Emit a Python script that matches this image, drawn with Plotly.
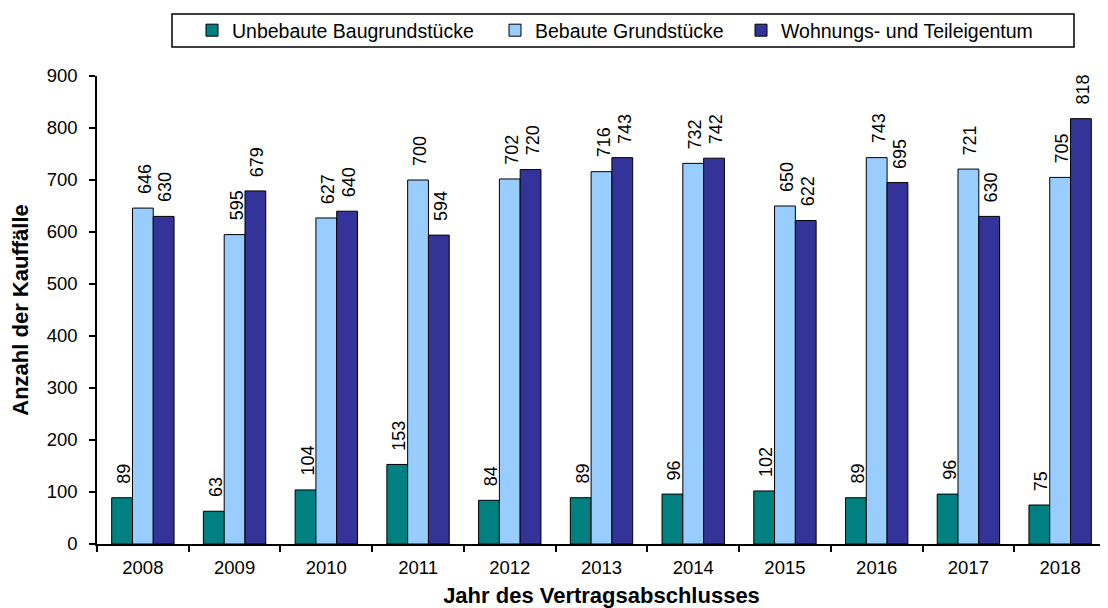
import plotly.graph_objects as go

years = ["2008", "2009", "2010", "2011", "2012", "2013", "2014", "2015", "2016", "2017", "2018"]
unbebaut = [89, 63, 104, 153, 84, 89, 96, 102, 89, 96, 75]
bebaut = [646, 595, 627, 700, 702, 716, 732, 650, 743, 721, 705]
wohnung = [630, 679, 640, 594, 720, 743, 742, 622, 695, 630, 818]
series_names = ["Unbebaute Baugrundstücke", "Bebaute Grundstücke", "Wohnungs- und Teileigentum"]
colors = ["#008080", "#99CCFF", "#333399"]

FONT = "Liberation Sans, Arial, sans-serif"

# page body has an 8px margin; compensate so the plot sits where the reference has it
OFF = 8
PAGE_W, PAGE_H = 1108, 608
AX_L, AX_R, AX_T, AX_B = 97, 1106, 76, 544  # page pixel positions of plot area
W, H = PAGE_W - OFF, PAGE_H - OFF
L = AX_L - OFF
T = AX_T - OFF
R = W - (AX_R - OFF)
B = H - (AX_B - OFF)
pw, ph = AX_R - AX_L, AX_B - AX_T
BARGAP = 0.32
bar_w = pw / len(years) * (1 - BARGAP) / 3


def px_x(x):
    return (x - AX_L) / pw


def px_y(y):
    return 1 + (AX_T - y) / ph


legend_ids = ["legend", "legend2", "legend3"]
legend_text_starts = [232, 535, 781]

fig = go.Figure()
annotations = []
for i, (name, vals, col) in enumerate(zip(series_names, [unbebaut, bebaut, wohnung], colors)):
    fig.add_trace(go.Bar(
        x=years, y=vals, name=name, legend=legend_ids[i],
        marker=dict(color=col, line=dict(color="black", width=1)),
        cliponaxis=False,
    ))
    for j, v in enumerate(vals):
        # category axis: annotation x given as the category index
        annotations.append(dict(
            x=j, y=v, xref="x", yref="y", text=str(v), showarrow=False,
            textangle=-90, yanchor="bottom", xanchor="center",
            xshift=(i - 1) * bar_w + 2, yshift=12,
            font=dict(family=FONT, size=18, color="black"),
        ))

legend_common = dict(orientation="h", xanchor="left", yanchor="middle",
                     y=px_y(30.5), font=dict(family=FONT, size=19.5, color="black"),
                     bgcolor="rgba(0,0,0,0)", borderwidth=0, itemwidth=30)

fig.update_layout(
    width=W, height=H,
    margin=dict(l=L, r=R, t=T, b=B, autoexpand=False),
    paper_bgcolor="white", plot_bgcolor="white",
    font=dict(family=FONT, size=18, color="black"),
    barmode="group", bargap=BARGAP, bargroupgap=0,
    showlegend=True,
    legend=dict(legend_common, x=px_x(legend_text_starts[0] - 40)),
    legend2=dict(legend_common, x=px_x(legend_text_starts[1] - 40)),
    legend3=dict(legend_common, x=px_x(legend_text_starts[2] - 40)),
    annotations=annotations,
    shapes=[dict(type="rect", xref="paper", yref="paper",
                 x0=px_x(172), x1=px_x(1074), y0=px_y(47), y1=px_y(14),
                 line=dict(color="black", width=1.5), fillcolor="rgba(0,0,0,0)")],
    xaxis=dict(
        type="category", categoryorder="array", categoryarray=years,
        range=[-0.5, len(years) - 0.5],
        showline=True, linecolor="black", linewidth=1.5,
        ticks="outside", tickson="boundaries", ticklen=6, tickcolor="black", tickwidth=1.5,
        showgrid=False, zeroline=False, ticklabelstandoff=6,
        tickfont=dict(family=FONT, size=18.5, color="black"),
        title=dict(text="<b>Jahr des Vertragsabschlusses</b>", standoff=12,
                   font=dict(family=FONT, size=22, color="black")),
    ),
    yaxis=dict(
        range=[0, 900], dtick=100, showline=True, linecolor="black", linewidth=1.5,
        ticks="outside", ticklen=6, tickcolor="black", tickwidth=1.5,
        showgrid=False, zeroline=False, ticklabelstandoff=8,
        tickfont=dict(family=FONT, size=18.5, color="black"),
        title=dict(text="<b>Anzahl der Kauffälle</b>", standoff=16,
                   font=dict(family=FONT, size=22, color="black")),
    ),
)

fig.write_html("out.html")
